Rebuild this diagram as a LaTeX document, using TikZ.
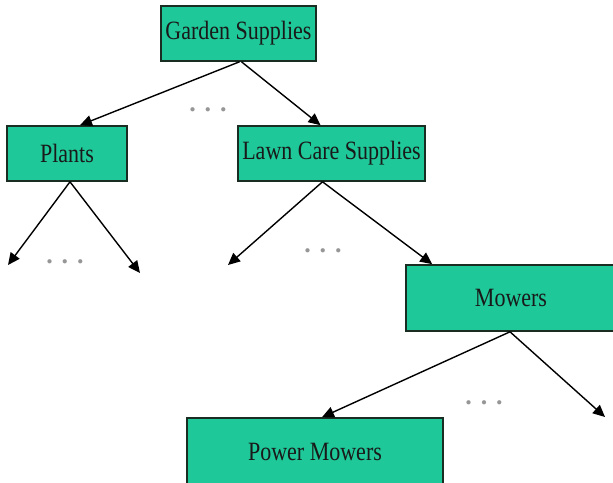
\documentclass[tikz,border=0pt]{standalone}
\usepackage{fontspec}
\setmainfont{Liberation Serif}
\usetikzlibrary{arrows.meta}
\definecolor{boxfill}{RGB}{30,200,152}
\definecolor{boxline}{RGB}{25,45,35}
\definecolor{dotgray}{RGB}{150,150,150}
\newcommand{\tallText}[1]{\scalebox{1}[1.2]{#1}}
\tikzset{
  box/.style={draw=boxline, line width=1.6pt, fill=boxfill, inner sep=0pt,
    font=\fontsize{22}{24}\selectfont, text=black!90},
  link/.style={draw=black, line width=1.4pt, -{Triangle[length=12pt,width=11pt]}},
  dotsrow/.style={text=dotgray, font=\fontsize{26}{26}\selectfont\bfseries, inner sep=0pt}
}
\begin{document}
\begin{tikzpicture}[x=1pt,y=-1pt]
\useasboundingbox (0,0) rectangle (613,482);
\clip (0,0) rectangle (613,482);
\fill[white] (0,0) rectangle (613,482);
\node[box, minimum width=155pt, minimum height=55pt] (garden) at (238.5,33.5) {\tallText{Garden Supplies}};
\node[box, minimum width=120pt, minimum height=55pt] (plants) at (67,153.5) {\tallText{Plants}};
\node[box, minimum width=187pt, minimum height=55pt] (lawn) at (331.5,153.5) {\tallText{Lawn Care Supplies}};
\node[box, minimum width=210pt, minimum height=66pt] (mowers) at (511,298) {\tallText{Mowers}};
\node[box, minimum width=256pt, minimum height=72pt] (power) at (315,454) {\raisebox{5pt}{\tallText{Power Mowers}}};

\coordinate (pl1) at (8,265);
\coordinate (pl2) at (140,273);
\coordinate (lw1) at (228,265);
\coordinate (mw1) at (605,417);

\draw[link] ([xshift=1pt]garden.south) -- ([xshift=13pt]plants.north);
\draw[link] ([xshift=3pt]garden.south) -- ([xshift=-11pt]lawn.north);
\draw[link] ([xshift=3pt]plants.south) -- (pl1);
\draw[link] ([xshift=3pt]plants.south) -- (pl2);
\draw[link] ([xshift=-9pt]lawn.south) -- (lw1);
\draw[link] ([xshift=-9pt]lawn.south) -- ([xshift=27pt]mowers.north west);
\draw[link] ([xshift=-1pt]mowers.south) -- ([xshift=7pt]power.north);
\draw[link] ([xshift=-1pt]mowers.south) -- (mw1);

\node[dotsrow] (d1) at (208,110) {.\hspace{9pt}.\hspace{9pt}.};
\node[dotsrow] (d2) at (65,262) {.\hspace{9pt}.\hspace{9pt}.};
\node[dotsrow] (d3) at (323,251) {.\hspace{9pt}.\hspace{9pt}.};
\node[dotsrow] (d4) at (484,403) {.\hspace{9pt}.\hspace{9pt}.};
\end{tikzpicture}
\end{document}
